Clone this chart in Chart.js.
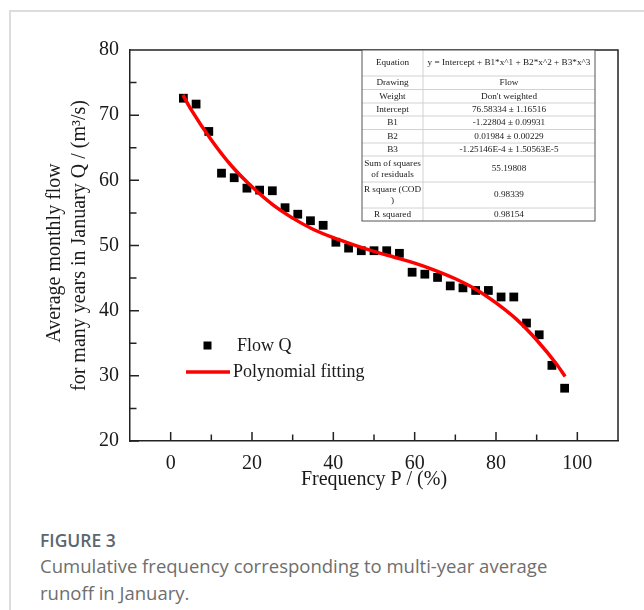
<!DOCTYPE html>
<html>
<head>
<meta charset="utf-8">
<title>Figure 3</title>
<script src="https://cdn.jsdelivr.net/npm/chart.js@4.4.1/dist/chart.umd.min.js"></script>
<style>
  html, body { margin: 0; padding: 0; background: #fff; }
  body { width: 644px; height: 610px; position: relative; overflow: hidden; }
  .frame { position: absolute; left: 9px; top: 10px; right: -10px; bottom: -10px;
           border-left: 2px solid #dcdcdc; border-top: 2px solid #dcdcdc; }
  #flowChart { position: absolute; left: 0; top: 0; }
  .fig-label { position: absolute; left: 40px; top: 528px; color: #5b6670;
               font: 600 17.5px/24px "Open Sans", sans-serif; }
  .fig-caption { position: absolute; left: 40px; top: 552px; color: #6e6e6e; white-space: nowrap;
                 font: 18.5px/27px "Open Sans", sans-serif; }
</style>
</head>
<body>
<div class="frame"></div>
<canvas id="flowChart" width="644" height="500"></canvas>
<div class="fig-label">FIGURE 3</div>
<div class="fig-caption">Cumulative frequency corresponding to multi-year average<br>runoff in January.</div>

<script>
// observed points: frequency P (%) and flow Q (m3/s)
const freqP = [3.125, 6.25, 9.375, 12.5, 15.625, 18.75, 21.875, 25, 28.125, 31.25, 34.375,
  37.5, 40.625, 43.75, 46.875, 50, 53.125, 56.25, 59.375, 62.5, 65.625, 68.75, 71.875,
  75, 78.125, 81.25, 84.375, 87.5, 90.625, 93.75, 96.875];
const flowQ = [72.6, 71.7, 67.5, 61.1, 60.4, 58.8, 58.5, 58.4, 55.8, 54.8, 53.8,
  53.1, 50.5, 49.6, 49.2, 49.2, 49.2, 48.8, 45.9, 45.6, 45.1, 43.8, 43.5,
  43.1, 43.1, 42.1, 42.1, 38.1, 36.3, 31.6, 28.1];

// fitted curve
const fitP = [3, 5, 10, 15, 20, 25, 30, 35, 40, 45, 50, 55, 60, 65, 70, 75, 80, 85, 90, 95, 97];
const fitQ = [73.1, 70.9, 66.2, 62.2, 59.0, 56.3, 54.2, 52.5, 51.2, 50.1, 49.1, 48.2, 47.3,
  46.2, 44.9, 43.3, 41.2, 38.7, 35.5, 31.7, 29.9];

const xTicks = [0, 20, 40, 60, 80, 100];
const xMinorTicks = [10, 30, 50, 70, 90];
const yTicks = [20, 30, 40, 50, 60, 70, 80];
const yMinorTicks = [25, 35, 45, 55, 65, 75];

const seriesNames = ['Flow Q', 'Polynomial fitting'];
const yTitle = ['Average monthly flow', 'for many years in January Q / (m\u00B3/s)'];
const xTitle = 'Frequency P / (%)';

const fitTableRows = [
  ['Equation', 'y = Intercept + B1*x^1 + B2*x^2 + B3*x^3'],
  ['Drawing', 'Flow'],
  ['Weight', "Don't weighted"],
  ['Intercept', '76.58334 \u00B1 1.16516'],
  ['B1', '-1.22804 \u00B1 0.09931'],
  ['B2', '0.01984 \u00B1 0.00229'],
  ['B3', '-1.25146E-4 \u00B1 1.50563E-5'],
  ['Sum of squares\nof residuals', '55.19808'],
  ['R square (COD\n)', '0.98339'],
  ['R squared', '0.98154']
];

const SERIF = '"Liberation Serif", "Times New Roman", serif';
const INK = '#1a1a1a';

// table geometry (px)
const tableCols = [362, 423, 595];
const tableRowEdges = [50, 76, 89.5, 103, 116, 129.5, 143, 156, 182, 208, 221];

const boxAndTicks = {
  id: 'boxAndTicks',
  afterDraw(chart) {
    const { ctx, chartArea: a, scales: { x, y } } = chart;
    ctx.save();
    ctx.strokeStyle = '#222';
    ctx.lineWidth = 1.5;
    ctx.beginPath();
    ctx.moveTo(a.left, a.top);
    ctx.lineTo(a.right, a.top);
    ctx.lineTo(a.right, a.bottom);
    const tick = (vals, len) => {
      vals.forEach(v => {
        const px = x.getPixelForValue(v);
        ctx.moveTo(px, a.bottom);
        ctx.lineTo(px, a.bottom - len);
      });
    };
    const ytick = (vals, len) => {
      vals.forEach(v => {
        const py = y.getPixelForValue(v);
        ctx.moveTo(a.left, py);
        ctx.lineTo(a.left + len, py);
      });
    };
    tick(xTicks, 9);
    tick(xMinorTicks, 6.5);
    ytick(yTicks, 9);
    ytick(yMinorTicks, 6.5);
    ctx.stroke();
    ctx.restore();
  }
};

const fitTable = {
  id: 'fitTable',
  afterDraw(chart) {
    const ctx = chart.ctx;
    const [c0, c1, c2] = tableCols;
    const top = tableRowEdges[0];
    const bottom = tableRowEdges[tableRowEdges.length - 1];
    ctx.save();
    ctx.fillStyle = '#fff';
    ctx.fillRect(c0, top, c2 - c0, bottom - top);

    ctx.strokeStyle = '#d2d2d2';
    ctx.lineWidth = 1;
    ctx.beginPath();
    tableRowEdges.slice(1, -1).forEach(ry => {
      ctx.moveTo(c0, ry);
      ctx.lineTo(c2, ry);
    });
    ctx.moveTo(c1, top);
    ctx.lineTo(c1, bottom);
    ctx.stroke();

    ctx.strokeStyle = '#555';
    ctx.strokeRect(c0, top, c2 - c0, bottom - top);

    ctx.fillStyle = INK;
    ctx.font = '9.2px ' + SERIF;
    ctx.textAlign = 'center';
    ctx.textBaseline = 'middle';
    fitTableRows.forEach((row, i) => {
      const mid = (tableRowEdges[i] + tableRowEdges[i + 1]) / 2;
      const lines = row[0].split('\n');
      lines.forEach((line, k) => {
        ctx.fillText(line, (c0 + c1) / 2, mid + (k - (lines.length - 1) / 2) * 11);
      });
      ctx.fillText(row[1], (c1 + c2) / 2, mid);
    });
    ctx.restore();
  }
};

const plotLegend = {
  id: 'plotLegend',
  afterDraw(chart) {
    const ctx = chart.ctx;
    const pts = chart.data.datasets[1];
    const fit = chart.data.datasets[0];
    ctx.save();
    ctx.fillStyle = pts.backgroundColor;
    ctx.fillRect(203.5, 341.5, 8, 8);
    ctx.strokeStyle = fit.borderColor;
    ctx.lineWidth = fit.borderWidth;
    ctx.beginPath();
    ctx.moveTo(186, 372);
    ctx.lineTo(230, 372);
    ctx.stroke();
    ctx.fillStyle = INK;
    ctx.font = '18px ' + SERIF;
    ctx.textBaseline = 'middle';
    ctx.fillText(pts.label, 237, 346);
    ctx.fillText(fit.label, 233, 372);
    ctx.restore();
  }
};

function drawFlowChart() {
  const ctx = document.getElementById('flowChart').getContext('2d');

  new Chart(ctx, {
    type: 'scatter',
    data: {
      datasets: [{
        type: 'line',
        label: seriesNames[1],
        data: fitP.map((p, i) => ({ x: p, y: fitQ[i] })),
        borderColor: '#ff0000',
        borderWidth: 3.5,
        pointRadius: 0,
        fill: false,
        cubicInterpolationMode: 'monotone',
        order: 0
      }, {
        label: seriesNames[0],
        data: freqP.map((p, i) => ({ x: p, y: flowQ[i] })),
        backgroundColor: '#000',
        borderColor: '#000',
        borderWidth: 0,
        pointStyle: 'rect',
        pointRadius: 6.2,
        order: 1
      }]
    },
    options: {
      responsive: false,
      animation: false,
      devicePixelRatio: 1,
      layout: { padding: { top: 50, right: 26, left: 0, bottom: 0 } },
      plugins: { legend: { display: false }, tooltip: { enabled: false } },
      scales: {
        x: {
          type: 'linear',
          min: -10,
          max: 110,
          afterFit: s => { s.height = 59; },
          afterBuildTicks: s => { s.ticks = xTicks.map(v => ({ value: v })); },
          grid: { display: false, drawTicks: false },
          border: { display: true, color: '#222', width: 1.5 },
          ticks: { color: INK, padding: 11, maxRotation: 0, font: { family: SERIF, size: 20 } },
          title: {
            display: true,
            text: xTitle,
            color: INK,
            padding: { top: 0, bottom: 8 },
            font: { family: SERIF, size: 20, lineHeight: 1.2 }
          }
        },
        y: {
          type: 'linear',
          min: 20,
          max: 80,
          afterFit: s => { s.width = 130; },
          afterBuildTicks: s => { s.ticks = yTicks.map(v => ({ value: v })); },
          grid: { display: false, drawTicks: false },
          border: { display: true, color: '#222', width: 1.5 },
          ticks: { color: INK, padding: 11, font: { family: SERIF, size: 20 } },
          title: {
            display: true,
            text: [yTitle[0] + '   ', yTitle[1]],
            color: INK,
            padding: { top: 42.5, bottom: 0 },
            font: { family: SERIF, size: 20, lineHeight: 1.25 }
          }
        }
      }
    },
    plugins: [boxAndTicks, fitTable, plotLegend]
  });
}

document.addEventListener('DOMContentLoaded', drawFlowChart);
</script>
</body>
</html>
